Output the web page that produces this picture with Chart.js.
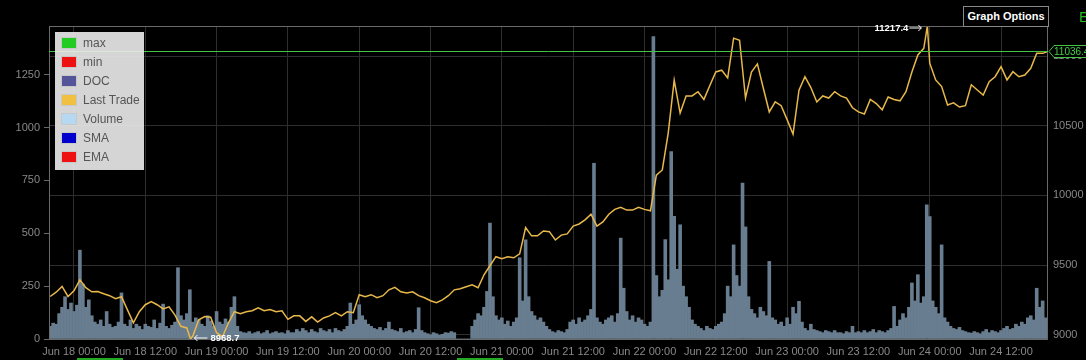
<!DOCTYPE html>
<html>
<head>
<meta charset="utf-8">
<title>Last Trade</title>
<script src="https://cdn.jsdelivr.net/npm/chart.js@4.4.1/dist/chart.umd.min.js"></script>
<style>
body { margin: 0; background: #000; font-family: "Liberation Sans", Arial, sans-serif; }
#wrap { position: relative; width: 1086px; height: 360px; overflow: hidden; background: #000; }
#leyenda { position: absolute; left: 55px; top: 32px; width: 89px; height: 138px; background: rgba(236,236,236,0.9); }
.item { position: absolute; left: 6px; height: 19px; line-height: 19px; font-size: 12px; color: #555; white-space: nowrap; }
.sw { display: inline-block; width: 14px; height: 10px; border: 1px solid #c8c8c8; vertical-align: middle; margin-right: 6px; margin-top: -2px; }
#btnOpciones { position: absolute; left: 963px; top: 6px; width: 84px; height: 19px; border: 1px solid #888; color: #fff; font-weight: bold; font-size: 11px; line-height: 19px; text-align: center; background: #000; }
#letraE { position: absolute; left: 1079px; top: 8px; font-size: 15px; color: #22bb22; }
.tira { position: absolute; top: 358px; height: 2px; width: 46px; background: #22aa22; }
</style>
</head>
<body>
<div id="wrap">
  <canvas id="grafica" width="1086" height="360"></canvas>
  <div id="leyenda"></div>
  <div id="btnOpciones">Graph Options</div>
  <div id="letraE">E</div>
  <div class="tira" style="left:77px"></div>
  <div class="tira" style="left:457px"></div>
</div>
<script>
// horas contadas desde Jun 18 00:00
const horaInicio = -4;

// Last Trade, un valor por hora desde horaInicio
const precios = [
  9274, 9305, 9346, 9274, 9315, 9394, 9337, 9308, 9310, 9294, 9280, 9258, 9272, 9178, 9085, 9165,
  9215, 9238, 9215, 9185, 9200, 9140, 9060, 9048, 8990, 9107, 9130, 9125, 9014, 8985, 9085, 9165,
  9150, 9165, 9172, 9193, 9172, 9180, 9165, 9172, 9110, 9135, 9135, 9095, 9128, 9090, 9120, 9135,
  9158, 9135, 9165, 9158, 9287, 9272, 9287, 9265, 9280, 9322, 9340, 9308, 9300, 9308, 9280, 9265,
  9244, 9230, 9250, 9280, 9322, 9330, 9344, 9358, 9337, 9430, 9495, 9560, 9545, 9560, 9552, 9580,
  9770, 9710, 9710, 9745, 9740, 9680, 9715, 9724, 9780, 9795, 9825, 9865, 9780, 9810, 9865, 9900,
  9915, 9895, 9895, 9915, 9900, 9890, 10146, 10183, 10450, 10829, 10592, 10715, 10715, 10745, 10690, 10790,
  10887, 10900, 10845, 11130, 11115, 10700, 10887, 10945, 10770, 10600, 10672, 10645, 10545, 10440, 10757, 10853,
  10775, 10672, 10715, 10700, 10745, 10715, 10700, 10630, 10600, 10585, 10690, 10660, 10615, 10707, 10690, 10680,
  10745, 10887, 11009, 11057, 10950, 10830, 10782, 10650, 10665, 10635, 10645, 10795, 10758, 10722, 10817, 10853,
  10925, 10830, 10889, 10853, 10865, 10913, 11021, 11021, 11036.4
];

// minimo y maximo del periodo
const extremosHoras = [19.6, 143.6];
const extremosPrecios = [8968.7, 11217.4];

// Volume, un valor cada media hora desde horaInicio
const volumenes = [
  60, 75, 70, 120, 150, 200, 140, 170, 130, 160, 420, 260, 150, 185, 110, 80,
  70, 90, 60, 130, 70, 55, 60, 80, 218, 70, 60, 90, 50, 70, 60, 45,
  70, 60, 55, 90, 50, 75, 165, 60, 50, 65, 80, 337, 110, 90, 120, 233,
  80, 100, 90, 70, 60, 110, 85, 60, 130, 80, 70, 95, 80, 150, 200, 60,
  35, 30, 28, 35, 25, 30, 35, 25, 30, 40, 25, 30, 35, 28, 30, 25,
  40, 30, 30, 45, 35, 50, 40, 30, 45, 35, 30, 50, 40, 35, 45, 30,
  50, 40, 35, 45, 60, 170, 70, 90, 162, 110, 90, 70, 60, 50, 45, 55,
  40, 50, 80, 45, 40, 35, 50, 30, 35, 40, 30, 45, 148, 40, 30, 25,
  20, 30, 25, 18, 22, 30, 28, 35, 30, 0, 0, 0, 0, 0, 60, 90,
  120, 110, 150, 225, 548, 200, 110, 90, 100, 70, 85, 60, 80, 100, 384, 180,
  469, 200, 130, 110, 90, 100, 80, 60, 45, 35, 30, 40, 35, 30, 45, 80,
  90, 70, 100, 80, 90, 110, 140, 831, 100, 80, 70, 90, 100, 110, 80, 120,
  477, 240, 130, 90, 110, 80, 100, 90, 70, 60, 80, 1430, 300, 200, 230, 470,
  280, 886, 580, 330, 540, 250, 200, 150, 90, 70, 60, 50, 40, 60, 50, 45,
  60, 70, 80, 120, 250, 200, 445, 300, 250, 737, 530, 200, 140, 120, 100, 150,
  130, 110, 367, 100, 90, 70, 80, 60, 100, 70, 150, 120, 178, 80, 50, 40,
  70, 45, 40, 35, 30, 40, 35, 30, 40, 30, 30, 25, 35, 30, 60, 30,
  35, 30, 40, 30, 35, 45, 30, 40, 35, 30, 40, 50, 154, 60, 90, 120,
  100, 150, 265, 180, 304, 170, 200, 634, 579, 180, 150, 120, 445, 100, 80, 60,
  50, 45, 55, 40, 35, 30, 28, 35, 30, 25, 35, 45, 30, 40, 35, 30,
  40, 50, 60, 45, 50, 70, 60, 80, 70, 100, 110, 90, 240, 150, 180, 100,
  90
];

const horasEtiqueta = [0, 12, 24, 36, 48, 60, 72, 84, 96, 108, 120, 132, 144, 156];
const dias = ["Jun 18", "Jun 19", "Jun 20", "Jun 21", "Jun 22", "Jun 23", "Jun 24"];
const ticksVolumen = [0, 250, 500, 750, 1000, 1250];
const ticksPrecio = [9000, 9500, 10000, 10500, 11000];

const nombresLeyenda = ["max", "min", "DOC", "Last Trade", "Volume", "SMA", "EMA"];
const coloresLeyenda = ["#22cc22", "#ee1111", "#555599", "#f0c040", "#b5d9f2", "#0000cc", "#ee1111"];

const leyenda = document.getElementById("leyenda");
nombresLeyenda.forEach((nombre, i) => {
    leyenda.innerHTML += `<div class="item" style="top:${2 + i * 19}px"><span class="sw" style="background:${coloresLeyenda[i]}"></span>${nombre}</div>`;
});

let puntosPrecio = precios.map((p, i) => ({ x: horaInicio + i, y: p }));
extremosHoras.forEach((h, i) => puntosPrecio.push({ x: h, y: extremosPrecios[i] }));
puntosPrecio.sort((a, b) => a.x - b.x);
const puntosVolumen = volumenes.map((v, i) => ({ x: horaInicio + i * 0.5, y: v }));

function etiquetaHora(valor) {
    const dia = dias[Math.floor(valor / 24)];
    return dia + " " + (valor % 24 == 0 ? "00:00" : "12:00");
}

function flecha(ctx, x1, x2, y) {
    // punta en x2
    ctx.beginPath();
    ctx.moveTo(x1, y);
    ctx.lineTo(x2, y);
    const d = x2 > x1 ? -3 : 3;
    ctx.moveTo(x2 + d, y - 3);
    ctx.lineTo(x2, y);
    ctx.lineTo(x2 + d, y + 3);
    ctx.stroke();
}

const marcas = {
    id: "marcas",
    afterDraw(chart) {
        const ctx = chart.ctx;
        const area = chart.chartArea;
        const xs = chart.scales.x;
        const yp = chart.scales.yPrecio;
        ctx.save();
        // marco
        ctx.strokeStyle = "#6a6a6a";
        ctx.lineWidth = 1;
        ctx.strokeRect(Math.round(area.left) + 0.5, Math.round(area.top) + 0.5,
            Math.round(area.right - area.left) - 1, Math.round(area.bottom - area.top));

        // linea del ultimo precio
        const ultimo = precios[precios.length - 1];
        const yG = Math.round(yp.getPixelForValue(ultimo)) + 0.5;
        ctx.strokeStyle = "#44c444";
        ctx.beginPath();
        ctx.moveTo(area.left, yG);
        ctx.lineTo(area.right, yG);
        ctx.stroke();

        // etiqueta a la derecha
        const xr = area.right + 1;
        ctx.fillStyle = "#000";
        ctx.beginPath();
        ctx.moveTo(xr, yG);
        ctx.lineTo(xr + 5, yG - 6);
        ctx.lineTo(1090, yG - 6);
        ctx.lineTo(1090, yG + 6);
        ctx.lineTo(xr + 5, yG + 6);
        ctx.closePath();
        ctx.fill();
        ctx.stroke();
        ctx.fillStyle = "#44cc44";
        ctx.font = "10px 'Liberation Sans', Arial";
        ctx.textBaseline = "middle";
        ctx.textAlign = "left";
        ctx.fillText(String(ultimo), xr + 5, yG + 1);

        // maximo y minimo
        ctx.fillStyle = "#fff";
        ctx.strokeStyle = "#fff";
        ctx.font = "bold 9.5px 'Liberation Sans', Arial";
        const xMax = xs.getPixelForValue(extremosHoras[1]);
        const yMax = yp.getPixelForValue(extremosPrecios[1]) + 2;
        flecha(ctx, xMax - 18, xMax - 6, yMax);
        ctx.textAlign = "right";
        ctx.fillText(String(extremosPrecios[1]), xMax - 19, yMax);

        const xMin = xs.getPixelForValue(extremosHoras[0]);
        const yMin = yp.getPixelForValue(extremosPrecios[0]) - 1;
        flecha(ctx, xMin + 17, xMin + 4, yMin);
        ctx.textAlign = "left";
        ctx.fillText(String(extremosPrecios[0]), xMin + 20, yMin);
        ctx.restore();
    }
};

Chart.defaults.font.family = "'Liberation Sans', Arial, sans-serif";
Chart.defaults.font.size = 11;
Chart.defaults.color = "#888";

const grafica = document.getElementById("grafica").getContext("2d");
const myChart = new Chart(grafica, {
    type: "bar",
    data: {
        datasets: [
            {
                type: "line",
                label: "Last Trade",
                data: puntosPrecio,
                yAxisID: "yPrecio",
                borderColor: "#e8b84a",
                borderWidth: 1.5,
                pointRadius: 0,
                tension: 0,
                order: 0
            },
            {
                type: "bar",
                label: "Volume",
                data: puntosVolumen,
                yAxisID: "yVolumen",
                backgroundColor: "#687d8f",
                barPercentage: 1,
                categoryPercentage: 1,
                order: 1
            }
        ]
    },
    options: {
        responsive: false,
        animation: false,
        layout: { padding: { top: 26, left: 0, right: 0, bottom: 0 } },
        plugins: { legend: { display: false }, tooltip: { enabled: false } },
        scales: {
            x: {
                type: "linear",
                offset: false,
                min: -4.2,
                max: 163.9,
                afterBuildTicks: (s) => { s.ticks = horasEtiqueta.map(v => ({ value: v })); },
                afterFit: (s) => { s.height = 21; },
                ticks: { callback: (v) => etiquetaHora(v), autoSkip: false, maxRotation: 0, padding: 6, color: "#888" },
                grid: { color: "#2e2e2e", drawTicks: false, offset: false },
                border: { display: false }
            },
            yVolumen: {
                type: "linear",
                position: "left",
                min: 0,
                max: 1480,
                afterBuildTicks: (s) => { s.ticks = ticksVolumen.map(v => ({ value: v })); },
                afterFit: (s) => { s.width = 49; },
                ticks: { callback: (v) => String(v), padding: 4, color: "#888" },
                grid: { drawOnChartArea: false, tickLength: 5, color: "#666" },
                border: { display: false }
            },
            yPrecio: {
                type: "linear",
                position: "right",
                min: 8968.7,
                max: 11217.4,
                afterBuildTicks: (s) => { s.ticks = ticksPrecio.map(v => ({ value: v })); },
                afterFit: (s) => { s.width = 38; },
                ticks: { callback: (v) => String(v), padding: 5, color: "#888" },
                grid: { color: "#2e2e2e", drawTicks: false },
                border: { display: false }
            }
        }
    },
    plugins: [marcas]
});
</script>
</body>
</html>
